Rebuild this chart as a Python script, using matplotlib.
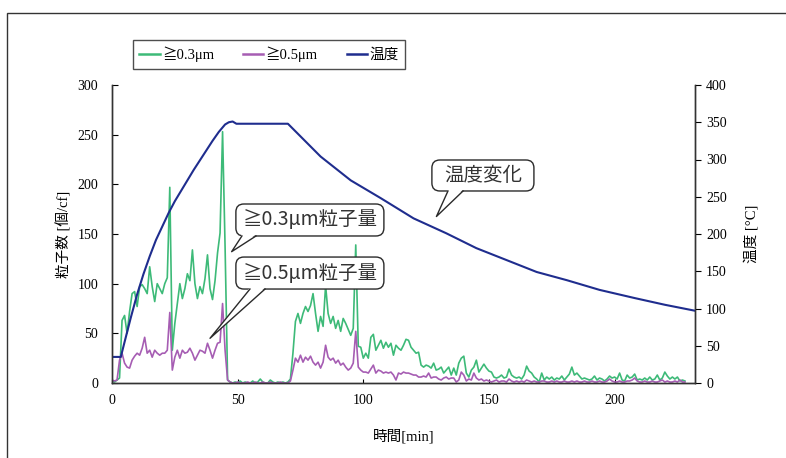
import numpy as np
import matplotlib
matplotlib.use("Agg")
import matplotlib.pyplot as plt
from matplotlib.patches import Rectangle, FancyBboxPatch, Polygon
from matplotlib.lines import Line2D
from matplotlib.transforms import IdentityTransform

# Datos (muestreo de 1 minuto)
particulas_03 = [
    2, 1, 3, 5, 63, 68, 50, 72, 90, 92,
    77, 97, 99, 95, 90, 117, 97, 82, 100, 95,
    90, 100, 106, 197, 33, 60, 80, 100, 85, 95,
    110, 103, 134, 100, 85, 97, 90, 105, 129, 95,
    84, 103, 131, 151, 253, 137, 3, 1, 0, 1,
    0, 2, 0, 1, 0, 0, 2, 0, 1, 4,
    1, 0, 0, 3, 1, 0, 1, 0, 1, 0,
    1, 4, 30, 62, 70, 60, 70, 77, 72, 78,
    90, 70, 52, 67, 57, 98, 70, 60, 67, 55,
    63, 52, 65, 60, 54, 48, 55, 139, 37, 36,
    25, 30, 25, 46, 49, 33, 38, 43, 35, 41,
    36, 40, 28, 38, 35, 33, 38, 44, 43, 36,
    33, 30, 31, 18, 16, 18, 17, 15, 20, 13,
    14, 16, 10, 13, 16, 8, 15, 8, 20, 25,
    27, 10, 6, 13, 16, 23, 11, 15, 19, 15,
    12, 11, 6, 5, 6, 8, 5, 6, 14, 8,
    6, 5, 6, 4, 8, 17, 12, 10, 6, 4,
    1, 10, 3, 6, 4, 6, 3, 5, 4, 7,
    3, 6, 9, 16, 8, 10, 7, 4, 5, 4,
    3, 4, 7, 3, 5, 4, 2, 4, 7, 5,
    6, 4, 10, 3, 2, 8, 5, 6, 9, 3,
    4, 3, 5, 3, 6, 3, 4, 8, 3, 5,
    11, 7, 4, 6, 4, 6, 2, 3, 2,
]
particulas_05 = [
    3, 2, 3, 23, 30, 20, 16, 15, 23, 27,
    30, 28, 35, 46, 30, 33, 26, 33, 30, 28,
    30, 30, 33, 71, 13, 26, 33, 25, 33, 30,
    31, 35, 30, 23, 28, 33, 32, 30, 40, 33,
    25, 33, 40, 41, 80, 33, 3, 1, 0, 0,
    1, 0, 0, 0, 1, 0, 0, 1, 0, 0,
    1, 0, 0, 1, 0, 0, 0, 1, 0, 0,
    0, 2, 13, 25, 21, 28, 21, 26, 23, 27,
    21, 18, 21, 15, 21, 38, 26, 23, 25, 20,
    23, 18, 20, 16, 13, 15, 20, 52, 16, 13,
    11, 11, 10, 14, 18, 10, 13, 12, 10, 11,
    10, 11, 8, 3, 10, 9, 11, 10, 10, 9,
    8, 8, 6, 6, 7, 6, 10, 5, 6, 6,
    4, 3, 5, 6, 4, 5, 5, 1, 3, 11,
    8, 2, 4, 3, 10, 5, 3, 4, 2, 3,
    2, 1, 2, 3, 1, 2, 2, 1, 4, 2,
    1, 2, 1, 2, 1, 3, 2, 1, 2, 1,
    1, 2, 2, 1, 1, 2, 1, 2, 1, 1,
    2, 1, 1, 2, 1, 2, 1, 1, 2, 1,
    1, 2, 1, 1, 2, 1, 1, 2, 4, 2,
    1, 1, 2, 1, 1, 2, 2, 3, 5, 2,
    1, 1, 2, 1, 1, 2, 1, 1, 2, 3,
    1, 2, 1, 1, 2, 1, 3, 1, 1,
]
tiempo_temp = [0, 3.5, 5, 7.5, 10, 12.5, 15, 17.5, 20, 22.5, 25, 27.5, 30, 32.5, 35,
               37.5, 40, 42.5, 45, 46.5, 48, 49.5, 70,
               83, 95, 107, 120, 133, 145, 157, 169, 181, 194, 208, 220, 232]
temperatura = [35, 35, 55, 88, 119, 146, 170, 192, 210, 228, 244, 258, 272, 286, 299,
               312, 325, 337, 347, 350, 351, 348, 348,
               304, 272, 248, 221, 201, 181, 165, 149, 138, 125, 114, 105, 97]

x_ticks = [0, 50, 100, 150, 200]
y_ticks = [0, 50, 100, 150, 200, 250, 300]
y2_ticks = [0, 50, 100, 150, 200, 250, 300, 350, 400]

# Globos: texto, caja (t0, t1, c0, c1), base de la cola (t0, t1), punta (t, c)
globos = [
    ("温度変化", (127.3, 167.9, 193.3, 224.5), (133.7, 139.7), (129.1, 167.6)),
    ("≧0.3μm粒子量", (49.3, 108.2, 148.0, 180.2), (51.7, 57.3), (47.6, 132.2)),
    ("≧0.5μm粒子量", (49.3, 108.2, 94.6, 126.8), (54.9, 60.9), (39.0, 45.0)),
]

tiempo = np.arange(len(particulas_03))

verde = "#3dba78"
morado = "#a65db3"
azul = "#1f2d8e"
borde = "#2a2a2a"
serif = ["Liberation Serif", "Noto Sans CJK JP"]
sans = ["Noto Sans CJK JP", "DejaVu Sans"]

fig = plt.figure(figsize=(7.86, 4.58), dpi=100)
ax1 = fig.add_axes([112 / 786, 1 - 383 / 458, (695 - 112) / 786, (383 - 85) / 458])
ax2 = ax1.twinx()

l1, = ax1.plot(tiempo, particulas_03, color=verde, lw=1.2, label="≧0.3μm")
l2, = ax1.plot(tiempo, particulas_05, color=morado, lw=1.2, label="≧0.5μm")
l3, = ax2.plot(tiempo_temp, temperatura, color=azul, lw=1.5, label="温度")

ax1.set_xlim(0, 232)
ax1.set_ylim(0, 300)
ax2.set_ylim(0, 400)
ax1.set_xticks(x_ticks)
ax1.set_yticks(y_ticks)
ax2.set_yticks(y2_ticks)

for ax in (ax1, ax2):
    ax.spines["top"].set_visible(False)
    for s in ax.spines.values():
        s.set_color("#333333")
        s.set_linewidth(1.0)
    for lab in ax.get_xticklabels() + ax.get_yticklabels():
        lab.set_family(serif)
        lab.set_fontsize(10)
ax1.tick_params(axis="y", direction="in", length=4, pad=10)
ax1.tick_params(axis="x", direction="in", length=3, pad=8)
ax2.tick_params(axis="y", direction="out", length=4, pad=4)

ax1.set_ylabel("粒子数 [個/cf]", family=serif, fontsize=10.5, labelpad=4)
ax2.set_ylabel("温度 [°C]", family=serif, fontsize=10.5, labelpad=12)
ax1.set_xlabel("時間[min]", family=serif, fontsize=10.5, labelpad=16)

# Leyenda arriba del gráfico
leg = fig.legend(handles=[l1, l2, l3], loc="center", bbox_to_anchor=(269 / 786, 1 - 54.5 / 458),
                 ncol=3, frameon=True, fancybox=False, edgecolor="#222222",
                 prop={"family": serif, "size": 10.5}, handlelength=1.4, handletextpad=0.15,
                 columnspacing=2.0, borderpad=0.45)
for h in leg.legend_handles:
    h.set_linewidth(1.8)

# Globos de texto dibujados en píxeles
def a_pixel(t, c):
    return ax1.transData.transform((t, c))

for texto, caja, base, punta in globos:
    x0, y0 = a_pixel(caja[0], caja[2])
    x1, y1 = a_pixel(caja[1], caja[3])
    ax1.add_artist(FancyBboxPatch((x0, y0), x1 - x0, y1 - y0, boxstyle="round,pad=0,rounding_size=8",
                                  fc="white", ec=borde, lw=1.0, transform=IdentityTransform(),
                                  clip_on=False, zorder=10))
    bx0, _ = a_pixel(base[0], caja[2])
    bx1, _ = a_pixel(base[1], caja[2])
    px, py = a_pixel(*punta)
    ax1.add_artist(Polygon([(bx0, y0 + 1.5), (bx1, y0 + 1.5), (px, py)], closed=True, fc="white",
                           ec="none", transform=IdentityTransform(), clip_on=False, zorder=11))
    ax1.add_artist(Line2D([bx0, px, bx1], [y0, py, y0], color=borde, lw=1.0,
                          transform=IdentityTransform(), clip_on=False, zorder=12))
    ax1.text((x0 + x1) / 2, (y0 + y1) / 2, texto, transform=IdentityTransform(), ha="center",
             va="center", fontsize=14, family=sans, color="#333333", zorder=13)

# Marco exterior
fig.patches.append(Rectangle((7 / 786, -0.1), 1.2, 1 - 13 / 458 + 0.1, transform=fig.transFigure,
                             fill=False, ec="#333333", lw=1.0))

fig.savefig("out.png", dpi=100)
